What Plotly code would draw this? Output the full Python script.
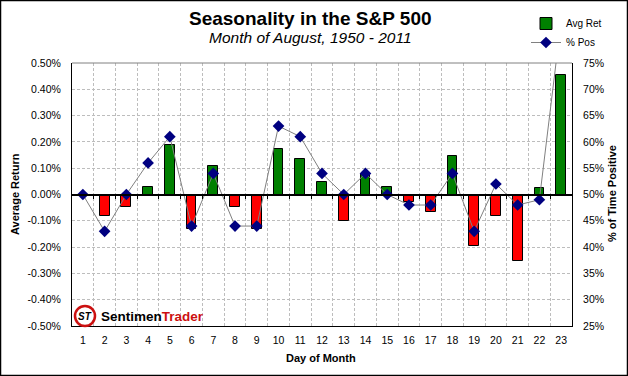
import plotly.graph_objects as go

days = list(range(1, 24))
day_labels = [str(d) for d in days]
avg_ret = [0.0, -0.080, -0.046, 0.027, 0.190, -0.133, 0.107, -0.046, -0.131, 0.172,
           0.134, 0.047, -0.099, 0.077, 0.027, -0.027, -0.068, 0.146, -0.194, -0.083,
           -0.254, 0.023, 0.456]
pct_pos = [50, 43, 50, 56, 61, 44, 54, 44, 44, 63, 61, 54, 50, 54, 50, 48, 48, 54,
           43, 52, 48, 49, 83]
left_ticks = [-0.5, -0.4, -0.3, -0.2, -0.1, 0.0, 0.1, 0.2, 0.3, 0.4, 0.5]
left_labels = ["-0.50%", "-0.40%", "-0.30%", "-0.20%", "-0.10%", "0.00%",
               "0.10%", "0.20%", "0.30%", "0.40%", "0.50%"]
right_ticks = [25, 30, 35, 40, 45, 50, 55, 60, 65, 70, 75]
right_labels = ["25%", "30%", "35%", "40%", "45%", "50%", "55%", "60%", "65%",
                "70%", "75%"]

FONT = "Liberation Sans, Arial, sans-serif"
W, H = 628, 376
ML, MR, MT, MB = 72, 56, 63, 50
PW, PH = W - ML - MR, H - MT - MB

def px(x):
    return (x - ML) / PW

def py(y):
    return (H - MB - y) / PH

bar_colors = ["#008000" if v >= 0 else "#FF0000" for v in avg_ret]

fig = go.Figure()
fig.add_trace(go.Bar(
    x=days, y=avg_ret, name="Avg Ret", width=0.45,
    marker=dict(color=bar_colors, line=dict(color="black", width=1)),
    yaxis="y",
))
fig.add_trace(go.Scatter(
    x=days, y=pct_pos, name="% Pos", mode="lines+markers",
    line=dict(color="#808080", width=1),
    marker=dict(symbol="diamond", size=9, color="#000080", line=dict(color="#000080", width=0)),
    yaxis="y2",
))
# helper trace for the zero-crossing category axis
fig.add_trace(go.Scatter(x=[days[0]], y=[0], xaxis="x2", yaxis="y", mode="markers",
                         marker=dict(opacity=0), showlegend=False, hoverinfo="skip"))

grid_vals = [d + 0.5 for d in days[:-1]]

fig.update_layout(
    width=W, height=H,
    margin=dict(l=ML, r=MR, t=MT, b=MB, autoexpand=False),
    paper_bgcolor="white", plot_bgcolor="white",
    font=dict(family=FONT, size=10.5, color="black"),
    bargap=0,
    xaxis=dict(
        range=[0.5, 23.5], tickvals=days, ticktext=day_labels, showgrid=False,
        zeroline=False, showline=True, linecolor="black", linewidth=1, ticks="",
        ticklabelstandoff=4,
        minor=dict(tickvals=grid_vals, showgrid=True, gridcolor="#BDBDBD",
                   griddash="3px,2px", gridwidth=1, ticks=""),
        tickfont=dict(size=10.5),
    ),
    xaxis2=dict(
        overlaying="x", anchor="free", position=0.5, range=[0.5, 23.5],
        tickvals=grid_vals, showticklabels=False, ticks="outside", ticklen=4,
        tickcolor="black", showline=True, linecolor="black", linewidth=1.5,
        showgrid=False, zeroline=False,
    ),
    yaxis=dict(
        range=[-0.5, 0.5], tickvals=left_ticks, ticktext=left_labels,
        showgrid=True, gridcolor="#BDBDBD", griddash="3px,2px", gridwidth=1,
        zeroline=False, showline=True, linecolor="black", linewidth=1, ticks="",
        ticklabelstandoff=8,
    ),
    yaxis2=dict(
        range=[25, 75], tickvals=right_ticks, ticktext=right_labels, overlaying="y",
        side="right", showgrid=False, zeroline=False, showline=True,
        linecolor="black", linewidth=1, ticks="", ticklabelstandoff=8,
    ),
    legend=dict(
        x=px(526), y=py(9), xanchor="left", yanchor="top",
        font=dict(size=10, family=FONT), bgcolor="rgba(0,0,0,0)",
        itemwidth=30, tracegroupgap=2,
    ),
    showlegend=True,
)

annotations = [
    dict(text="<b>Seasonality in the S&P 500</b>", x=px(310), y=py(19),
         font=dict(size=19, family=FONT)),
    dict(text="<i>Month of August, 1950 - 2011</i>", x=px(310), y=py(38),
         font=dict(size=15.5, family=FONT)),
    dict(text="<b>Average Return</b>", x=px(15), y=py(194), textangle=-90,
         font=dict(size=11, family=FONT)),
    dict(text="<b>% of Time Positive</b>", x=px(612), y=py(194), textangle=-90,
         font=dict(size=11, family=FONT)),
    dict(text="<b>Day of Month</b>", x=px(321), y=py(358),
         font=dict(size=11, family=FONT)),
    dict(text="<b><i>ST</i></b>", x=px(85), y=py(316),
         font=dict(size=10, family=FONT, color="black")),
    dict(text="<b>Sentimen</b><b><span style='color:#CC1010'>Trader</span></b>",
         x=px(99), y=py(316), xanchor="left",
         font=dict(size=13.5, family=FONT, color="black")),
]
for a in annotations:
    a.setdefault("xref", "paper")
    a.setdefault("yref", "paper")
    a.setdefault("showarrow", False)
    a.setdefault("xanchor", "center")
    a.setdefault("yanchor", "middle")
fig.update_layout(annotations=annotations)

shapes = [
    # outer border of the chart
    dict(type="rect", xref="paper", yref="paper", x0=px(0.5), x1=px(627.5),
         y0=py(375.5), y1=py(0.5), line=dict(color="black", width=1.5)),
    # grey top edge of the plot area
    dict(type="line", xref="paper", yref="paper", x0=0, x1=1, y0=1, y1=1,
         line=dict(color="#808080", width=1)),
    # logo ring
    dict(type="circle", xref="paper", yref="paper", x0=px(75), x1=px(95),
         y0=py(326), y1=py(306), line=dict(color="#CC1010", width=2.5),
         fillcolor="white", layer="above"),
]
fig.update_layout(shapes=shapes)

fig.write_html("out.html", config={"displayModeBar": False},
               post_script="document.body.style.margin='0';document.body.style.overflow='hidden';")
